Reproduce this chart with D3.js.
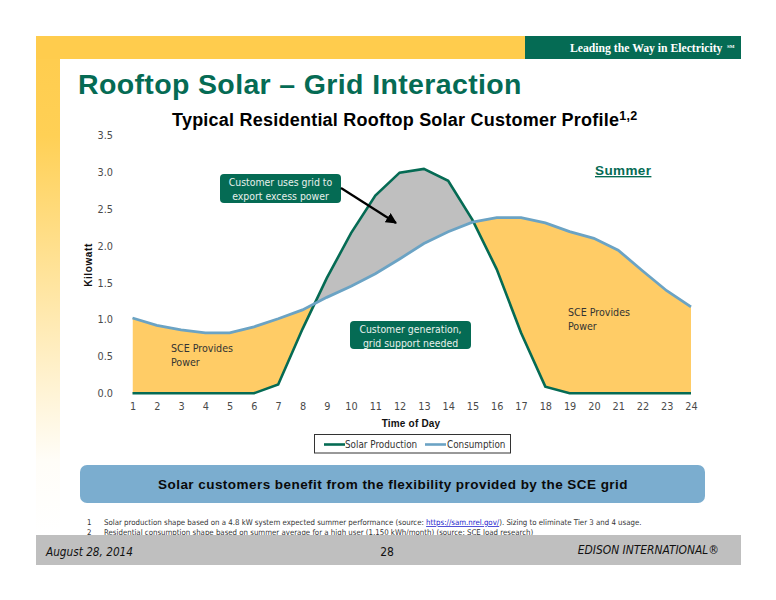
<!DOCTYPE html>
<html>
<head>
<meta charset="utf-8">
<script src="https://cdn.jsdelivr.net/npm/d3@7"></script>
<style>
  html, body { margin: 0; padding: 0; background: #fff; }
  svg { display: block; }
  .verd { font-family: "DejaVu Sans Condensed", "DejaVu Sans", sans-serif; font-stretch: condensed; }
  .aria { font-family: "Liberation Sans", Arial, sans-serif; font-weight: bold; }
  .axis text { font-family: "DejaVu Sans Condensed", "DejaVu Sans", sans-serif; font-stretch: condensed; font-size: 10.8px; fill: #4a4a4a; }
</style>
</head>
<body>
<div id="chart"></div>
<script>
var hours = [1, 2, 3, 4, 5, 6, 7, 8, 9, 10, 11, 12, 13, 14, 15, 16, 17, 18, 19, 20, 21, 22, 23, 24];
var solar = [0, 0, 0, 0, 0, 0, 0.12, 0.87, 1.56, 2.17, 2.68, 2.99, 3.04, 2.88, 2.35, 1.68, 0.82, 0.09, 0, 0, 0, 0, 0, 0];
var consumption = [1.02, 0.92, 0.86, 0.82, 0.82, 0.9, 1.01, 1.13, 1.3, 1.45, 1.62, 1.82, 2.03, 2.19, 2.32, 2.38, 2.38, 2.31, 2.19, 2.1, 1.94, 1.66, 1.39, 1.17];
var yTicks = [0, 0.5, 1, 1.5, 2, 2.5, 3, 3.5];

var green = "#056B54";
var blue = "#6BA3C4";
var yellow = "#FFCC66";
var gray = "#BFBFBF";

var svg = d3.select("#chart").append("svg").attr("width", 776).attr("height", 600);

// slide background
var defs = svg.append("defs");
var grad = defs.append("linearGradient").attr("id", "band").attr("x1", 0).attr("y1", 0).attr("x2", 0).attr("y2", 1);
grad.append("stop").attr("offset", "0").attr("stop-color", "#FFCC4D");
grad.append("stop").attr("offset", "0.2").attr("stop-color", "#FFD055");
grad.append("stop").attr("offset", "0.85").attr("stop-color", "#FFFDF8");
grad.append("stop").attr("offset", "1").attr("stop-color", "#FFFFFF");

svg.append("rect").attr("x", 36).attr("y", 36).attr("width", 24).attr("height", 500).attr("fill", "url(#band)");
svg.append("rect").attr("x", 36).attr("y", 36).attr("width", 490).attr("height", 23).attr("fill", "#FFCC4D");
svg.append("rect").attr("x", 525).attr("y", 36).attr("width", 216).attr("height", 23).attr("fill", green);
svg.append("text").attr("x", 570).attr("y", 52)
  .attr("font-family", "'Liberation Serif', serif").attr("font-weight", "bold").attr("font-size", 11.7).attr("fill", "#fff")
  .text("Leading the Way in Electricity");
svg.append("text").attr("x", 727).attr("y", 48)
  .attr("font-family", "'Liberation Serif', serif").attr("font-weight", "bold").attr("font-size", 5).attr("fill", "#fff")
  .text("SM");

svg.append("text").attr("class", "aria").attr("x", 78).attr("y", 93.5)
  .attr("font-size", 28.5).attr("letter-spacing", 0.36).attr("fill", green)
  .text("Rooftop Solar \u2013 Grid Interaction");

var sub = svg.append("text").attr("class", "aria").attr("x", 172).attr("y", 126)
  .attr("font-size", 18).attr("letter-spacing", 0.23).attr("fill", "#000");
sub.append("tspan").text("Typical Residential Rooftop Solar Customer Profile");
sub.append("tspan").attr("font-size", 12.5).attr("dy", -6).text("1,2");

// scales
var x = d3.scaleLinear().domain([1, 24]).range([132.5, 691]);
var y = d3.scaleLinear().domain([0, 3.5]).range([393.3, 135]);

var rows = hours.map(function(h, i) {
  return { h: h, s: solar[i], c: consumption[i] };
});

// clip on the consumption line, so the fill between the two lines splits at the crossings
var belowClip = d3.area().x(d => x(d.h)).y0(y(-0.1)).y1(d => y(d.c));
var aboveClip = d3.area().x(d => x(d.h)).y0(y(3.6)).y1(d => y(d.c));
defs.append("clipPath").attr("id", "below").append("path").attr("d", belowClip(rows));
defs.append("clipPath").attr("id", "above").append("path").attr("d", aboveClip(rows));

var between = d3.area().x(d => x(d.h)).y0(d => y(d.s)).y1(d => y(d.c));
svg.append("path").attr("d", between(rows)).attr("fill", yellow).attr("clip-path", "url(#below)");
svg.append("path").attr("d", between(rows)).attr("fill", gray).attr("clip-path", "url(#above)");

var solarLine = d3.line().x(d => x(d.h)).y(d => y(d.s));
var consLine = d3.line().x(d => x(d.h)).y(d => y(d.c));
svg.append("path").attr("d", solarLine(rows)).attr("fill", "none").attr("stroke", green).attr("stroke-width", 2.6);
svg.append("path").attr("d", consLine(rows)).attr("fill", "none").attr("stroke", blue).attr("stroke-width", 2.8);

// axes
var xAxis = d3.axisBottom(x).tickValues(hours).tickFormat(d3.format("d")).tickSize(0).tickPadding(0);
var yAxis = d3.axisLeft(y).tickValues(yTicks).tickFormat(d3.format(".1f")).tickSize(0).tickPadding(0);
var gx = svg.append("g").attr("class", "axis").attr("transform", "translate(0,402)").call(xAxis);
var gy = svg.append("g").attr("class", "axis").attr("transform", "translate(113,0)").call(yAxis);
gx.select(".domain").remove();
gy.select(".domain").remove();

svg.append("text").attr("class", "aria").attr("text-anchor", "middle")
  .attr("x", 411).attr("y", 427).attr("font-size", 10).attr("letter-spacing", 0.2).attr("fill", "#111")
  .text("Time of Day");
svg.append("text").attr("class", "aria").attr("text-anchor", "middle")
  .attr("transform", "translate(92,265) rotate(-90)").attr("font-size", 10).attr("letter-spacing", 0.6).attr("fill", "#111")
  .text("Kilowatt");

svg.append("text").attr("class", "aria").attr("x", 595).attr("y", 175)
  .attr("font-size", 13.5).attr("letter-spacing", 0.4).attr("fill", green).attr("text-decoration", "underline")
  .text("Summer");

// legend
svg.append("rect").attr("x", 314.5).attr("y", 434.5).attr("width", 196).attr("height", 18.5)
  .attr("fill", "#fff").attr("stroke", "#333").attr("stroke-width", 1);
svg.append("line").attr("x1", 324).attr("x2", 345).attr("y1", 444.5).attr("y2", 444.5).attr("stroke", green).attr("stroke-width", 2.6);
svg.append("text").attr("class", "verd").attr("x", 345).attr("y", 448).attr("font-size", 9.8).attr("fill", "#333").text("Solar Production");
svg.append("line").attr("x1", 425).attr("x2", 446).attr("y1", 444.5).attr("y2", 444.5).attr("stroke", blue).attr("stroke-width", 2.6);
svg.append("text").attr("class", "verd").attr("x", 447).attr("y", 448).attr("font-size", 9.8).attr("fill", "#333").text("Consumption");

// callouts
function callout(bx, by, bw, bh, lines) {
  svg.append("rect").attr("x", bx).attr("y", by).attr("width", bw).attr("height", bh).attr("rx", 4).attr("fill", green);
  lines.forEach(function(t, i) {
    svg.append("text").attr("class", "verd").attr("text-anchor", "middle")
      .attr("x", bx + bw / 2).attr("y", by + 12 + i * 13.5)
      .attr("font-size", 10.4).attr("fill", "#E8F0EC").text(t);
  });
}
callout(220, 174, 121, 29, ["Customer uses grid to", "export excess power"]);
callout(350, 321, 121, 28, ["Customer generation,", "grid support needed"]);

// arrow
defs.append("marker").attr("id", "arrowhead").attr("viewBox", "0 0 10 10").attr("refX", 9).attr("refY", 5)
  .attr("markerWidth", 5).attr("markerHeight", 5).attr("orient", "auto").attr("markerUnits", "strokeWidth")
  .append("path").attr("d", "M0,0L10,5L0,10z").attr("fill", "#000");
svg.append("line").attr("x1", 341).attr("y1", 188).attr("x2", 396).attr("y2", 223)
  .attr("stroke", "#000").attr("stroke-width", 2.2).attr("marker-end", "url(#arrowhead)");

function note(nx, ny, lines) {
  lines.forEach(function(t, i) {
    svg.append("text").attr("class", "verd").attr("x", nx).attr("y", ny + i * 13.5)
      .attr("font-size", 10.6).attr("fill", "#333").text(t);
  });
}
note(171, 352, ["SCE Provides", "Power"]);
note(568, 316, ["SCE Provides", "Power"]);

// takeaway bar
svg.append("rect").attr("x", 80).attr("y", 465).attr("width", 625).attr("height", 38).attr("rx", 7).attr("fill", "#7BADCF");
svg.append("text").attr("class", "aria").attr("text-anchor", "middle").attr("x", 393).attr("y", 489)
  .attr("font-size", 13.5).attr("letter-spacing", 0.45).attr("fill", "#0a0a0a")
  .text("Solar customers benefit from the flexibility provided by the SCE grid");

// footnotes
var fn = svg.append("g").attr("class", "verd").attr("font-size", 7.8).attr("fill", "#333");
fn.append("text").attr("x", 87).attr("y", 525).text("1");
var f1 = fn.append("text").attr("x", 104).attr("y", 525);
f1.append("tspan").text("Solar production shape based on a 4.8 kW system expected summer performance (source: ");
f1.append("tspan").attr("fill", "#2222CC").attr("text-decoration", "underline").text("https://sam.nrel.gov/");
f1.append("tspan").text("). Sizing to eliminate Tier 3 and 4 usage.");
fn.append("text").attr("x", 87).attr("y", 535).text("2");
fn.append("text").attr("x", 104).attr("y", 535)
  .text("Residential consumption shape based on summer average for a high user (1,150 kWh/month) (source: SCE load research)");

// footer
svg.append("rect").attr("x", 36).attr("y", 535).attr("width", 705).attr("height", 30).attr("fill", gray);
var ft = svg.append("g").attr("class", "verd").attr("fill", "#111");
ft.append("text").attr("x", 46).attr("y", 556).attr("font-size", 11.7).attr("font-style", "italic").text("August 28, 2014");
ft.append("text").attr("x", 387).attr("y", 556).attr("font-size", 12).attr("text-anchor", "middle").text("28");
ft.append("text").attr("x", 719).attr("y", 554).attr("font-size", 11.9).attr("font-style", "italic").attr("text-anchor", "end").text("EDISON INTERNATIONAL\u00AE");
</script>
</body>
</html>
